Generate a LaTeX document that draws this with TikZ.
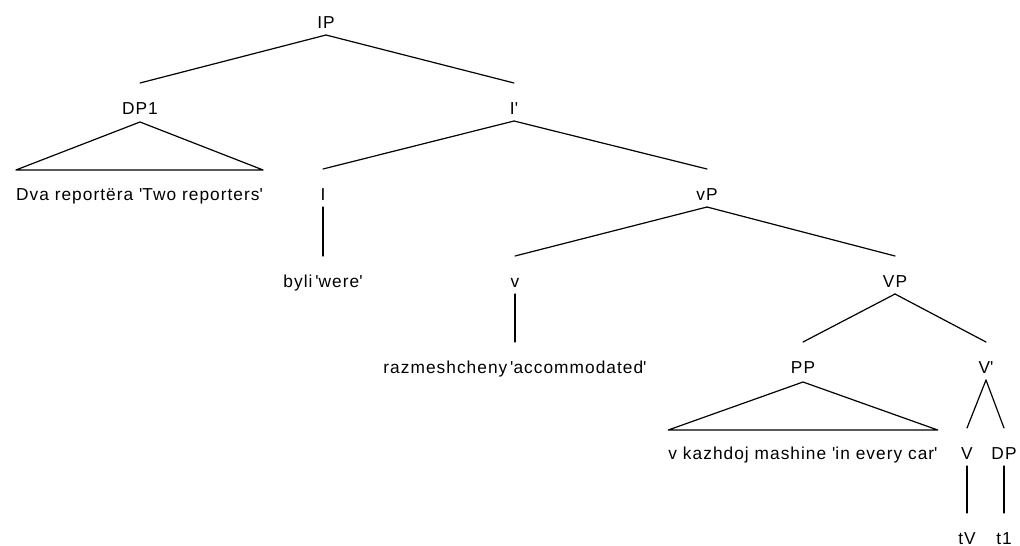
\documentclass[tikz,border=0pt]{standalone}
\usepackage{fontspec}
\usetikzlibrary{calc}
\newfontfamily\treefont[LetterSpace=6]{Liberation Sans}
\newcommand{\qt}{\textquotesingle}
\begin{document}
\begin{tikzpicture}[x=1pt,y=-1pt,
  lbl/.style={anchor=base,inner sep=0pt,font=\treefont\fontsize{17.3}{20}\selectfont,text=black},
  edge/.style={line width=1.2pt,line cap=round,line join=round}]
\useasboundingbox (0,0) rectangle (1020,546);
% level 0
\node[lbl] (IP)   at (326,28)  {IP};
% level 1
\node[lbl] (DP1)  at (140,114) {DP1};
\node[lbl] (Ib)   at (514,114) {I\qt};
% level 2
\node[lbl] (DPt)  at (139.5,200) {Dva reportëra \qt Two reporters\qt};
\node[lbl] (I)    at (323,200) {I};
\node[lbl] (vP)   at (707,200) {vP};
% level 3
\node[lbl] (byli) at (323,287) {byli\,\qt were\qt};
\node[lbl] (v)    at (515,287) {v};
\node[lbl] (VP)   at (895,287) {VP};
% level 4
\node[lbl] (raz)  at (515,373) {razmeshcheny\,\qt accommodated\qt};
\node[lbl] (PP)   at (803,373) {PP};
\node[lbl] (Vb)   at (986,373) {V\qt};
% level 5
\node[lbl] (PPt)  at (803,459) {v kazhdoj mashine \qt in every car\qt};
\node[lbl] (V)    at (967,459) {V};
\node[lbl] (DP)   at (1004,459) {DP};
% level 6
\node[lbl] (tV)   at (967,544) {tV};
\node[lbl] (t1)   at (1004,544) {t1};

% branches: from below the parent label to above the child label
\foreach \a/\b in {IP/DP1, IP/Ib, Ib/I, Ib/vP, I/byli, vP/v, vP/VP, v/raz,
                   VP/PP, VP/Vb, Vb/V, Vb/DP, V/tV, DP/t1}
  \draw[edge] ($(\a.base)+(0,7)$) -- ($(\b.base)+(0,-31)$);

% triangles over unanalysed phrases
\draw[edge] ($(DP1.base)+(0,8)$) -- ($(DPt.base west)+(0,-30)$)
  -- ($(DPt.base east)+(0,-30)$) -- cycle;
\draw[edge] ($(PP.base)+(0,9)$) -- ($(PPt.base west)+(0,-29)$)
  -- ($(PPt.base east)+(0,-29)$) -- cycle;
\end{tikzpicture}
\end{document}
